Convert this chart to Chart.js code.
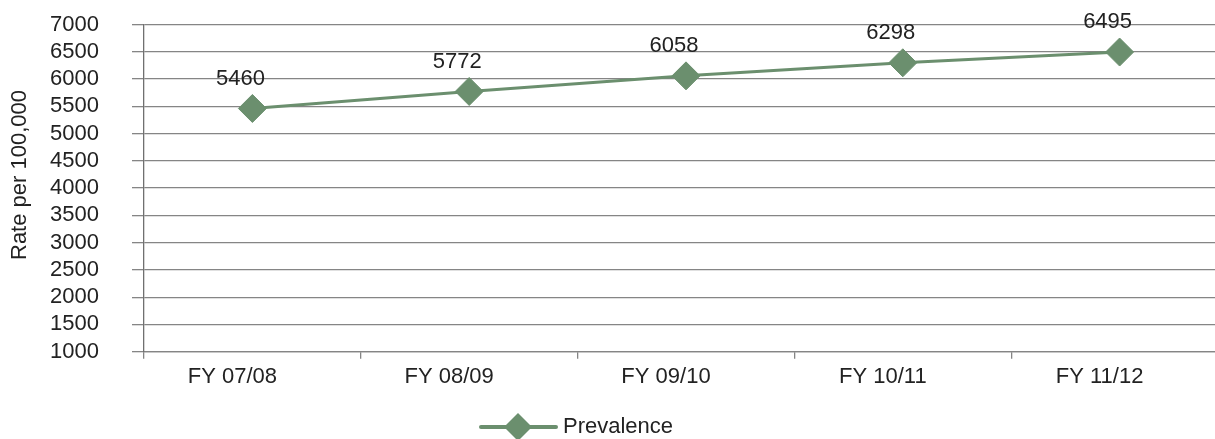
<!DOCTYPE html>
<html>
<head>
<meta charset="utf-8">
<script src="https://cdn.jsdelivr.net/npm/chart.js@4/dist/chart.umd.min.js"></script>
<style>
  html, body { margin: 0; padding: 0; background: #fff; overflow: hidden; }
</style>
</head>
<body>
<canvas id="chart" width="1243" height="439"></canvas>
<script>
const categories = ["FY 07/08", "FY 08/09", "FY 09/10", "FY 10/11", "FY 11/12"];
const prevalence = [5460, 5772, 6058, 6298, 6495];
const seriesName = "Prevalence";
const yTitle = "Rate per 100,000";
const yMin = 1000;
const yMax = 7000;
const yStep = 500;

const FONT = "'Liberation Sans', Arial, sans-serif";
const GREEN = "#6b8f6e";
const GRID = "#858585";
const TEXT = "#222";

// value labels above each marker + y title + legend
const extras = {
  id: "extras",
  afterDatasetsDraw(chart) {
    const ctx = chart.ctx;
    const meta = chart.getDatasetMeta(0);
    ctx.save();
    ctx.font = "22px " + FONT;
    ctx.fillStyle = TEXT;
    ctx.textAlign = "center";
    ctx.textBaseline = "middle";
    meta.data.forEach((pt, i) => {
      ctx.fillText(String(prevalence[i]), pt.x - 12, pt.y - 30);
    });

    // y axis title
    ctx.save();
    ctx.translate(20, 175);
    ctx.rotate(-Math.PI / 2);
    ctx.fillText(yTitle, 0, 0);
    ctx.restore();

    // legend
    const ly = 427;
    ctx.strokeStyle = GREEN;
    ctx.lineWidth = 4;
    ctx.lineCap = "round";
    ctx.beginPath();
    ctx.moveTo(481, ly);
    ctx.lineTo(556, ly);
    ctx.stroke();
    ctx.fillStyle = GREEN;
    ctx.beginPath();
    ctx.moveTo(518, ly - 14);
    ctx.lineTo(532, ly);
    ctx.lineTo(518, ly + 14);
    ctx.lineTo(504, ly);
    ctx.closePath();
    ctx.fill();
    ctx.fillStyle = TEXT;
    ctx.textAlign = "left";
    ctx.fillText(seriesName, 563, ly);
    ctx.restore();
  }
};

new Chart(document.getElementById("chart"), {
  type: "line",
  data: {
    labels: categories,
    datasets: [
      {
        label: seriesName,
        data: prevalence,
        borderColor: GREEN,
        backgroundColor: GREEN,
        borderWidth: 3,
        pointStyle: "rectRot",
        pointRadius: 14,
        pointHoverRadius: 14,
        pointBorderWidth: 1,
        tension: 0,
        fill: false,
      },
    ],
  },
  options: {
    responsive: false,
    animation: false,
    layout: {
      padding: { top: 24.5, bottom: 47.3, left: 0, right: 0 },
    },
    plugins: {
      legend: { display: false },
      title: { display: false },
      tooltip: { enabled: false },
    },
    scales: {
      x: {
        offset: true,
        grid: {
          offset: true,
          drawOnChartArea: false,
          drawTicks: true,
          tickLength: 7,
          color: GRID,
          lineWidth: 1.3,
        },
        border: { display: true, color: GRID, width: 1.3 },
        ticks: {
          color: TEXT,
          font: { size: 22, family: FONT },
          padding: 5,
          labelOffset: -20,
          maxRotation: 0,
          autoSkip: false,
        },
        afterFit(scale) {
          scale.height = 40;
          scale.paddingLeft = 0;
          scale.paddingRight = 0;
        },
      },
      y: {
        min: yMin,
        max: yMax,
        grid: {
          color: GRID,
          lineWidth: 1.3,
          tickLength: 12,
        },
        border: { display: true, color: "#707070", width: 1.3 },
        ticks: {
          stepSize: yStep,
          color: TEXT,
          font: { size: 22, family: FONT },
          padding: 33,
          autoSkip: false,
          callback: (v) => String(v),
        },
        afterFit(scale) {
          scale.width = 144;
          scale.paddingTop = 0;
          scale.paddingBottom = 0;
        },
      },
    },
  },
  plugins: [extras],
});
</script>
</body>
</html>
